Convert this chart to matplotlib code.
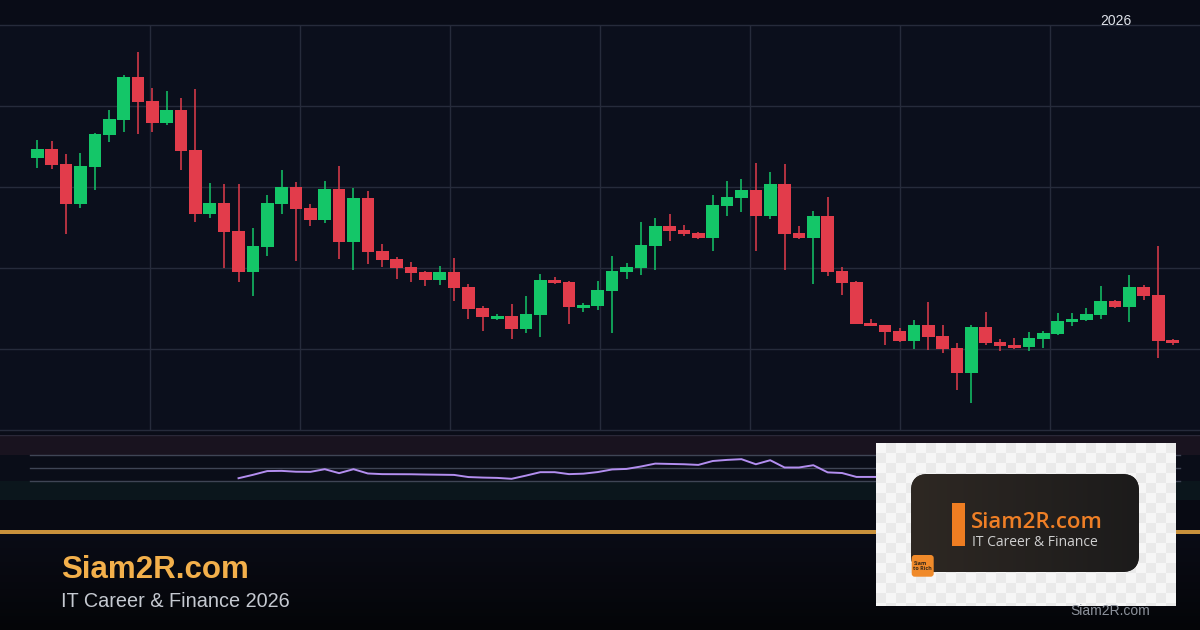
import matplotlib
matplotlib.use('Agg')
import matplotlib.pyplot as plt
import numpy as np
from matplotlib.patches import Rectangle, FancyBboxPatch
from matplotlib.colors import LinearSegmentedColormap

# daily candles (price units)
opens = [44.23, 45.1, 43.6, 39.63, 43.33, 46.53, 48.03, 52.3, 49.9, 47.73,
         49.0, 45.0, 38.63, 39.73, 36.93, 32.83, 35.33, 39.63, 41.3, 39.23,
         38.03, 41.1, 35.83, 40.2, 34.93, 34.13, 33.33, 32.83, 32.03, 32.83,
         31.33, 29.23, 28.13, 28.43, 27.13, 28.53, 32.03, 31.83, 29.23, 29.43,
         30.93, 32.83, 33.23, 35.43, 37.43, 37.03, 36.73, 36.23, 39.43, 40.23,
         41.03, 38.43, 41.63, 36.73, 36.23, 38.43, 32.93, 31.83, 27.73, 27.53,
         26.93, 25.93, 27.53, 26.43, 25.23, 22.73, 27.33, 25.83, 25.53, 25.33,
         26.13, 26.63, 27.83, 28.03, 28.53, 29.93, 29.33, 31.33, 30.53, 26.03]
highs = [46.0, 45.9, 44.57, 44.67, 46.73, 49.0, 52.5, 54.8, 51.17, 50.9,
         50.17, 51.1, 41.7, 41.6, 41.6, 37.17, 40.5, 43.0, 41.8, 39.63,
         41.9, 43.4, 41.2, 40.9, 35.63, 34.33, 33.83, 32.93, 33.43, 34.23,
         31.63, 29.43, 28.63, 29.63, 30.43, 32.63, 32.33, 31.93, 29.73, 31.93,
         34.43, 33.73, 37.83, 38.23, 38.63, 37.53, 36.83, 40.53, 41.93, 42.13,
         43.73, 42.83, 43.63, 37.43, 38.93, 40.33, 33.33, 31.93, 28.13, 27.53,
         27.23, 28.03, 29.83, 27.53, 25.73, 27.53, 28.83, 26.13, 26.23, 26.83,
         26.93, 28.73, 28.73, 29.23, 31.43, 30.03, 32.53, 31.53, 35.43, 26.13]
lows = [43.23, 43.13, 36.63, 39.23, 41.03, 45.83, 46.83, 46.63, 46.83, 47.53,
        43.03, 37.83, 38.23, 33.17, 31.83, 30.43, 34.43, 38.63, 33.93, 37.43,
        37.73, 34.13, 33.03, 33.63, 33.33, 32.13, 31.83, 31.43, 31.53, 29.93,
        28.13, 26.93, 28.03, 26.13, 26.73, 26.33, 31.63, 27.63, 28.83, 29.03,
        26.73, 32.13, 32.53, 33.03, 35.93, 36.43, 36.13, 34.93, 38.43, 38.83,
        34.93, 38.13, 33.03, 36.1, 31.63, 32.43, 30.53, 27.63, 27.43, 25.53,
        25.83, 25.13, 25.03, 24.73, 21.03, 19.73, 25.53, 24.93, 25.13, 24.93,
        25.23, 26.53, 27.43, 27.93, 28.13, 29.23, 27.83, 30.03, 24.23, 25.53]
closes = [45.1, 43.53, 39.63, 43.43, 46.6, 48.1, 52.3, 49.83, 47.73, 49.0,
          44.93, 38.63, 39.73, 36.83, 32.83, 35.4, 39.73, 41.3, 39.13, 38.03,
          41.1, 35.83, 40.2, 34.83, 34.03, 33.23, 32.73, 32.03, 32.83, 31.23,
          29.13, 28.33, 28.43, 27.13, 28.63, 32.03, 31.73, 29.33, 29.53, 31.03,
          32.93, 33.33, 35.53, 37.43, 36.93, 36.63, 36.23, 39.53, 40.33, 41.03,
          38.43, 41.63, 36.63, 36.23, 38.43, 32.83, 31.73, 27.63, 27.43, 26.83,
          25.93, 27.53, 26.33, 25.13, 22.73, 27.33, 25.73, 25.43, 25.23, 26.23,
          26.73, 27.93, 28.13, 28.63, 29.93, 29.33, 31.33, 30.43, 25.93, 25.73]

# RSI pane, starts at candle 14
rsi_start = 14
rsi_vals = [33.5, 38.7, 44.5, 44.8, 43.5, 43.3, 47.4, 41.3, 47.4, 40.8,
            39.8, 39.7, 39.6, 39.2, 38.9, 38.6, 35.3, 34.5, 34.0, 32.6,
            37.5, 42.8, 42.8, 39.8, 40.5, 43.0, 47.0, 47.8, 51.5, 56.0,
            55.5, 55.0, 54.0, 60.0, 61.7, 62.8, 55.0, 61.2, 50.0, 50.0,
            53.5, 42.5, 41.5, 35.5, 35.5, 35.5]
rsi_levels = [30, 50, 70]

year_label = '2026'
year_pos = 75
brand = 'Siam2R.com'
tagline = 'IT Career & Finance 2026'
logo_tag = 'IT Career & Finance'

W, H = 1200, 630
UP, DOWN = '#14c668', '#e23c4b'
GRID = '#262b3b'
XLIM = (-2.6, 80.91)


def box(l, t, r, b):
    return [l / W, 1 - b / H, (r - l) / W, (b - t) / H]


def px_to_idx(px):
    return XLIM[0] + px / W * (XLIM[1] - XLIM[0])


fig = plt.figure(figsize=(12, 6.3), dpi=100)
fig.patch.set_facecolor('#0a0d18')

# backdrop in pixel coords
bg = fig.add_axes([0, 0, 1, 1])
bg.set_xlim(0, W)
bg.set_ylim(H, 0)
bg.axis('off')
bg.add_patch(Rectangle((0, 0), W, 25, color='#090c17', lw=0))
bg.add_patch(Rectangle((0, 500), W, 30, color='#080a13', lw=0))
foot = LinearSegmentedColormap.from_list('foot', ['#0a0c16', '#040508'])
bg.imshow(np.linspace(0, 1, 100).reshape(-1, 1), cmap=foot, aspect='auto',
          extent=(0, W, 630, 534), zorder=1)
bg.add_patch(Rectangle((0, 530), W, 3.6, color='#c9913b', lw=0, zorder=2))

# main candle pane
ax = fig.add_axes(box(0, 25, 1200, 430))
ax.set_facecolor('#0b0f1c')
ax.set_xlim(*XLIM)
ax.set_ylim(17.0, 57.5)
for s in ax.spines.values():
    s.set_visible(False)
ax.set_xticks([])
ax.set_yticks([])
for lvl in np.arange(17.0, 57.6, 8.1):
    ax.axhline(lvl, color=GRID, lw=1, zorder=0, clip_on=False)
for k in range(1, 8):
    ax.axvline(px_to_idx(150 * k), color=GRID, lw=1, zorder=0)

x = np.arange(len(opens))
o = np.array(opens)
c = np.array(closes)
cols = [UP if cc >= oo else DOWN for oo, cc in zip(o, c)]
ax.vlines(x, lows, highs, colors=cols, lw=1.1, zorder=2)
ax.bar(x, np.maximum(np.abs(c - o), 0.2), bottom=np.minimum(o, c),
       width=0.88, color=cols, lw=0, zorder=3)

fig.text((1100.7) / W, 1 - 25 / H, year_label, color='#dfe3ea', fontsize=10,
         family='Liberation Sans', ha='left', va='baseline')

# RSI pane
ra = fig.add_axes(box(0, 435, 1200, 500))
ra.set_facecolor('#0a0d18')
ra.set_xlim(*XLIM)
ra.set_ylim(0, 100)
for s in ra.spines.values():
    s.set_visible(False)
ra.set_xticks([])
ra.set_yticks([])
ra.axhspan(70, 100, color='#19131f', lw=0, zorder=0)
ra.axhspan(0, 30, color='#0b161c', lw=0, zorder=0)
ra.axhline(100, color='#2a2838', lw=1, zorder=1)
for lvl in rsi_levels:
    ra.axhline(lvl, xmin=30 / W, xmax=1180 / W, color='#3f4555', lw=1, zorder=1)
ra.plot(np.arange(rsi_start, rsi_start + len(rsi_vals)), rsi_vals,
        color='#b38ef0', lw=1.4, zorder=2)

# footer text
fig.text(60.7 / W, 1 - 578.3 / H, brand, color='#f3b04b', fontsize=22.5,
         fontweight='bold', family='Liberation Sans', va='baseline')
fig.text(60.7 / W, 1 - 607 / H, tagline, color='#c5c9d1', fontsize=14.3,
         family='Liberation Sans', va='baseline')

# logo card
la = fig.add_axes(box(876, 443, 1176, 606))
la.set_xlim(876, 1176)
la.set_ylim(606, 443)
la.axis('off')
yy, xx = np.mgrid[0:163, 0:300]
checker = ((yy // 10 + xx // 10) % 2).astype(float)
la.imshow(checker, cmap=LinearSegmentedColormap.from_list('chk', ['#f6f6f6', '#eaeaea']),
          extent=(876, 1176, 606, 443), aspect='auto', interpolation='nearest', zorder=0)
card = FancyBboxPatch((911, 474), 228, 98, boxstyle='round,pad=0,rounding_size=17',
                      facecolor='#211f1e', edgecolor='none', zorder=1)
la.add_patch(card)
shade = LinearSegmentedColormap.from_list('card', ['#2e2823', '#1c1b1b'])
gimg = la.imshow(np.linspace(0, 1, 200).reshape(1, -1), cmap=shade, aspect='auto',
                 extent=(911, 1139, 572, 474), zorder=2)
gimg.set_clip_path(card)
la.add_patch(Rectangle((952, 503.3), 12.7, 42.4, color='#ee7d22', lw=0, zorder=3))
la.text(971, 528.3, brand, color='#ef7f26', fontsize=16, fontweight='semibold',
        family='Open Sans', va='baseline', zorder=4)
la.text(972, 545.7, logo_tag, color='#cfcfcf', fontsize=10,
        family='Open Sans', va='baseline', zorder=4)
la.add_patch(FancyBboxPatch((911.7, 555), 22, 21.7, boxstyle='round,pad=0,rounding_size=3',
                            facecolor='#f08a2a', edgecolor='none', zorder=3))
la.text(913.5, 566, 'Siam\nto Rich', color='#3b2b1b', fontsize=4, fontweight='bold',
        family='Open Sans', va='center', ha='left', linespacing=1.1, zorder=4)

fig.text(1070 / W, 1 - 615 / H, brand, color='#8d929c', fontsize=10,
         family='Liberation Sans', va='baseline')

fig.savefig('out.png', dpi=100, facecolor=fig.get_facecolor())
